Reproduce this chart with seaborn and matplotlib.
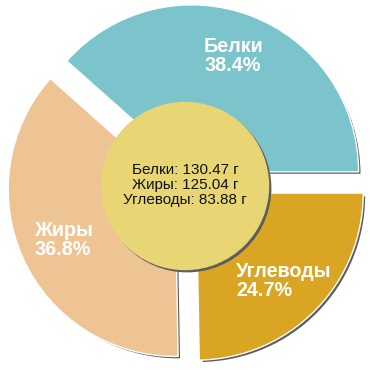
import matplotlib
matplotlib.use("Agg")
import matplotlib.pyplot as plt
import seaborn as sns
import numpy as np

sns.set_theme(style="white")
plt.rcParams['font.family'] = ['Liberation Sans', 'DejaVu Sans']

categories = ["Белки", "Жиры", "Углеводы"]
grams = [130.47, 125.04, 83.88]
percents = ["38.4%", "36.8%", "24.7%"]
colors = ["#7bc4cc", "#eec494", "#daa522"]
center_color = "#e8d675"
shadow_color = "#5e5e5e"

W = 370
fig = plt.figure(figsize=(3.7, 3.7), dpi=100)
ax = fig.add_axes([0, 0, 1, 1])

cx, cy = 187, 186
R = 167
expl = [13, 13, 13]
sh = 2.6

# shadow
ax.pie(grams, colors=[shadow_color] * 3, startangle=0, counterclock=True,
       explode=expl, center=(cx + sh, cy - sh), radius=R, frame=True)
# slices
ax.pie(grams, colors=colors, startangle=0, counterclock=True,
       explode=expl, center=(cx, cy), radius=R, frame=True)
ax.set_xlim(0, W)
ax.set_ylim(0, W)
ax.set_aspect("equal")
ax.axis("off")

# center circle with shadow
ccx, ccy, cr = 185, 184, 83.5
ax.add_patch(plt.Circle((ccx + 2.2, ccy - 2.2), cr, color=shadow_color, zorder=5))
ax.add_patch(plt.Circle((ccx, ccy), cr, color=center_color, zorder=6))

center_lines = [f"{c}: {g:.2f} г" for c, g in zip(categories, grams)]
ax.text(ccx, ccy + 1, "\n".join(center_lines), ha="center", va="center",
        fontsize=11, color="#111111", linespacing=1.08, zorder=7)

# slice labels
label_pos = [(204, 314), (34, 130), (236, 89)]
for (lx, ly), c, p in zip(label_pos, categories, percents):
    ax.text(lx, ly, f"{c}\n{p}", ha="left", va="center", fontsize=14.2,
            fontweight="bold", color="white", linespacing=1.05, zorder=8)

fig.savefig("out.png", dpi=100)
